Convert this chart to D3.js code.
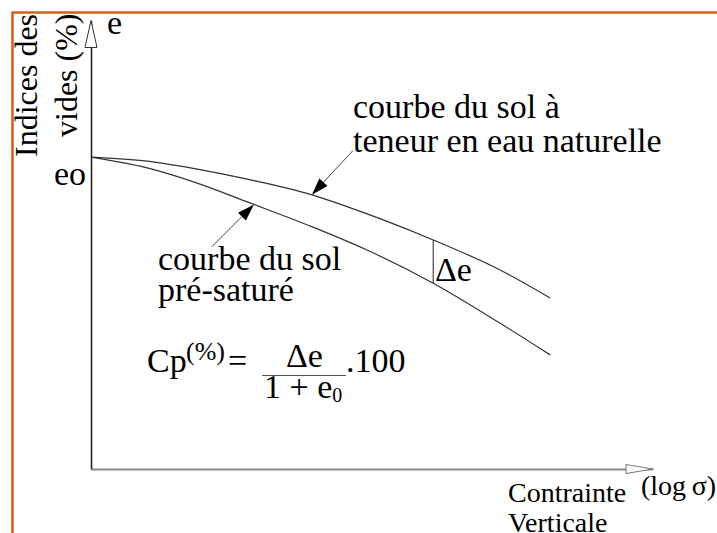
<!DOCTYPE html>
<html>
<head>
<meta charset="utf-8">
<script src="https://cdn.jsdelivr.net/npm/d3@7/dist/d3.min.js"></script>
<style>
  body { margin: 0; background: #fff; }
  svg { display: block; }
</style>
</head>
<body>
<svg id="chart" width="717" height="533"></svg>
<script>
// log(sigma) in arbitrary units, e = void ratio
var sigmaNat = [0, 1.0, 1.89, 2.78, 3.95, 4.48, 5.2, 6.09, 7.28, 8.17];
var eNat     = [0.779, 0.769, 0.749, 0.724, 0.684, 0.659, 0.622, 0.572, 0.497, 0.427];
var sigmaSat = [0, 1.0, 1.89, 2.78, 3.95, 4.91, 6.09, 7.28, 8.17];
var eSat     = [0.779, 0.752, 0.714, 0.667, 0.604, 0.547, 0.464, 0.364, 0.285];
var sigmaDelta = 6.09;          // where delta e is drawn
var leaderFrom = [[4.66, 0.795], [2.15, 0.555]];   // label end of the leaders
var leaderTo   = [3.93, 2.9];                       // sigma where they touch the curves

var serif = "'Liberation Serif'";

var svg = d3.select("#chart");

var x = d3.scaleLinear().domain([0, 10]).range([91, 653]);
var y = d3.scaleLinear().domain([0, 1.12]).range([469, 20.5]);

// frame
svg.append("rect")
    .attr("x", 12.5).attr("y", 12.5)
    .attr("width", 800).attr("height", 700)
    .style("fill", "none")
    .style("stroke", "#d0601c")
    .style("stroke-width", 2.5);

// axes, no ticks
svg.append("g")
    .attr("transform", "translate(0," + y(0) + ")")
    .call(d3.axisBottom(x).tickValues([]).tickSizeOuter(0))
    .select(".domain").style("stroke", "#8a8a8a").style("stroke-width", 2);

svg.append("g")
    .attr("transform", "translate(" + x(0) + ",0)")
    .call(d3.axisLeft(y).tickValues([]).tickSizeOuter(0))
    .select(".domain").style("stroke", "#222").style("stroke-width", 1.6);

// open arrow heads
var xe = x.range()[1], ye = y.range()[1];
svg.append("path")
    .attr("d", "M" + (xe - 27) + "," + (y(0) - 4.5) + "L" + xe + "," + y(0) + "L" + (xe - 27) + "," + (y(0) + 4.5) + "Z")
    .style("fill", "#fff").style("stroke", "#777").style("stroke-width", 1);
svg.append("path")
    .attr("d", "M" + (x(0) - 6) + "," + (ye + 27) + "L" + x(0) + "," + ye + "L" + (x(0) + 6) + "," + (ye + 27) + "Z")
    .style("fill", "#fff").style("stroke", "#333").style("stroke-width", 1);

// curves
var nat = sigmaNat.map(function(s, i) { return [s, eNat[i]]; });
var sat = sigmaSat.map(function(s, i) { return [s, eSat[i]]; });

var line = d3.line()
    .x(function(d) { return x(d[0]); })
    .y(function(d) { return y(d[1]); })
    .curve(d3.curveMonotoneX);

[nat, sat].forEach(function(c) {
    svg.append("path")
        .datum(c)
        .attr("d", line)
        .style("fill", "none")
        .style("stroke", "#333")
        .style("stroke-width", 1.2);
});

function eAt(c, s) {
    var i = d3.bisector(function(d) { return d[0]; }).right(c, s);
    i = Math.max(1, Math.min(c.length - 1, i));
    var a = c[i - 1], b = c[i], t = (s - a[0]) / (b[0] - a[0]);
    return a[1] + t * (b[1] - a[1]);
}

// delta e segment
svg.append("line")
    .attr("x1", x(sigmaDelta)).attr("x2", x(sigmaDelta))
    .attr("y1", y(eAt(nat, sigmaDelta))).attr("y2", y(eAt(sat, sigmaDelta)))
    .style("stroke", "#444").style("stroke-width", 1.2);

// leaders with filled arrow heads
[nat, sat].forEach(function(c, i) {
    var x1 = x(leaderFrom[i][0]), y1 = y(leaderFrom[i][1]);
    var x2 = x(leaderTo[i]), y2 = y(eAt(c, leaderTo[i]));
    var a = Math.atan2(y2 - y1, x2 - x1), len = 17, w = 5.5;
    var bx = x2 - len * Math.cos(a), by = y2 - len * Math.sin(a);
    svg.append("line")
        .attr("x1", x1).attr("y1", y1).attr("x2", bx).attr("y2", by)
        .style("stroke", "#444").style("stroke-width", 1);
    svg.append("path")
        .attr("d", "M" + x2 + "," + y2 +
            "L" + (bx + w * Math.sin(a)) + "," + (by - w * Math.cos(a)) +
            "L" + (bx - w * Math.sin(a)) + "," + (by + w * Math.cos(a)) + "Z")
        .style("fill", "#000");
});

// texts
function txt(t, px, py, size) {
    return svg.append("text").attr("x", px).attr("y", py)
        .style("font-family", serif)
        .style("font-size", size + "px")
        .style("fill", "#000")
        .text(t);
}

txt("e", 107, 34, 34);
txt("eo", 54, 185, 34);
txt("Indices des", 0, 0, 32).attr("transform", "translate(37,157) rotate(-90)");
txt("vides (%)", 0, 0, 32).attr("transform", "translate(77,137) rotate(-90)");

txt("courbe du sol à", 353, 118, 34);
txt("teneur en eau naturelle", 353, 152, 34);
txt("courbe du sol", 158, 270, 34);
txt("pré-saturé", 158, 301, 34);
txt("\u0394e", 435, 281, 34);

// formula
txt("Cp", 147, 372, 34);
txt("(%)", 186, 360, 26);
txt("=", 228, 372, 34);
svg.append("line").attr("x1", 262).attr("x2", 346).attr("y1", 375.5).attr("y2", 375.5)
    .style("stroke", "#555").style("stroke-width", 1);
txt("\u0394e", 286, 367, 34);
var den = txt("1 + e", 264, 398, 34);
den.append("tspan").attr("dy", 4).style("font-size", "20px").text("0");
txt(".100", 346, 372, 34);

txt("Contrainte", 508, 502, 28);
txt("Verticale", 508, 532, 28);
txt("(log\u2009\u03c3)", 641, 495, 28);
</script>
</body>
</html>
